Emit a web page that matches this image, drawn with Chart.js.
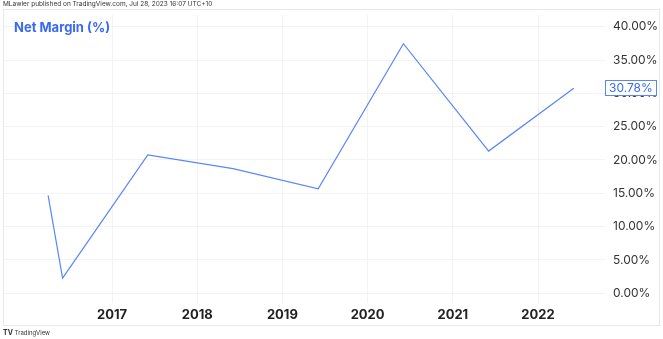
<!DOCTYPE html>
<html>
<head>
<meta charset="utf-8">
<script src="https://cdn.jsdelivr.net/npm/chart.js@4/dist/chart.umd.min.js"></script>
<style>
  html,body{margin:0;padding:0;background:#fff;}
  #wrap{position:relative;width:663px;height:339px;overflow:hidden;}
  canvas{position:absolute;left:0;top:0;}
  .txt{position:absolute;font-family:Inter,"Noto Sans",sans-serif;color:#333;white-space:nowrap;}
</style>
</head>
<body>
<div id="wrap">
  <canvas id="c" width="663" height="339"></canvas>
  <div class="txt" style="left:3px;top:0px;font-size:6.5px;line-height:9px;color:#333;">MLawler published on TradingView.com, Jul 28, 2023 16:07 UTC+10</div>
  <div class="txt" style="left:3px;top:328px;font-size:6px;line-height:9px;color:#333;"><b style="font-size:7px;">TV</b> TradingView</div>
</div>
<script>
// ---- data ----
const seriesName = "Net Margin (%)";
const dates = [2016.25, 2016.42, 2017.42, 2018.42, 2019.42, 2020.42, 2021.42, 2022.42];
const netMargin = [14.70, 2.26, 20.75, 18.70, 15.68, 37.46, 21.34, 30.78];
const yearTicks = [2017, 2018, 2019, 2020, 2021, 2022];
const pctTicks = [0, 5, 10, 15, 20, 25, 30, 35, 40];

const FONT = 'Inter, "Noto Sans", sans-serif';
const LINE = '#5b86f6';

const decor = {
  id: 'decor',
  beforeDraw(chart) {
    const ctx = chart.ctx;
    ctx.save();
    ctx.fillStyle = '#fff';
    ctx.fillRect(0, 0, chart.width, chart.height);
    ctx.restore();
  },
  afterDraw(chart) {
    const ctx = chart.ctx;
    ctx.save();
    // frame
    ctx.strokeStyle = '#e6e8ee';
    ctx.lineWidth = 1;
    ctx.strokeRect(3.5, 9.5, 656, 316);
    // title
    ctx.font = 'bold 13px ' + FONT;
    ctx.fillStyle = '#3a6af5';
    ctx.textBaseline = 'middle';
    ctx.textAlign = 'left';
    ctx.fillText(seriesName, 14, 28);
    // last value label
    const y = chart.scales.y;
    const last = netMargin[netMargin.length - 1];
    const py = Math.round(y.getPixelForValue(last));
    ctx.fillStyle = '#fff';
    ctx.fillRect(605, py - 8, 52, 16);
    ctx.strokeStyle = '#5b86f6';
    ctx.strokeRect(605.5, py - 7.5, 51, 15);
    ctx.font = '12px ' + FONT;
    ctx.fillStyle = '#3a6af5';
    ctx.fillText(last.toFixed(2) + '%', 609, py + 0.5);
    ctx.restore();
  }
};

new Chart(document.getElementById('c'), {
  type: 'line',
  data: {
    datasets: [{
      label: seriesName,
      data: dates.map((d, i) => ({ x: d, y: netMargin[i] })),
      borderColor: LINE,
      borderWidth: 1.2,
      pointRadius: 0,
      tension: 0,
      fill: false
    }]
  },
  options: {
    responsive: false,
    animation: false,
    devicePixelRatio: 1,
    layout: { padding: { left: 3, top: 10, right: 4, bottom: 13 } },
    plugins: { legend: { display: false }, tooltip: { enabled: false } },
    scales: {
      x: {
        type: 'linear',
        min: 2015.7207,
        max: 2022.786,
        afterBuildTicks(s) { s.ticks = yearTicks.map(v => ({ value: v })); },
        afterFit(s) { s.height = 23; },
        grid: { color: '#f2f3f6', drawTicks: false, lineWidth: 1 },
        border: { display: false },
        ticks: {
          padding: 4,
          maxRotation: 0,
          autoSkip: false,
          color: '#222',
          font: { family: FONT, size: 13, weight: 'bold' },
          callback: v => String(v)
        }
      },
      y: {
        type: 'linear',
        position: 'right',
        min: -1.47,
        max: 41.74,
        afterBuildTicks(s) { s.ticks = pctTicks.map(v => ({ value: v })); },
        afterFit(s) { s.width = 54; },
        grid: { color: '#f2f3f6', drawTicks: false, lineWidth: 1 },
        border: { display: false },
        ticks: {
          padding: 8,
          color: '#333',
          font: { family: FONT, size: 12 },
          callback: v => v.toFixed(2) + '%'
        }
      }
    }
  },
  plugins: [decor]
});
</script>
</body>
</html>
